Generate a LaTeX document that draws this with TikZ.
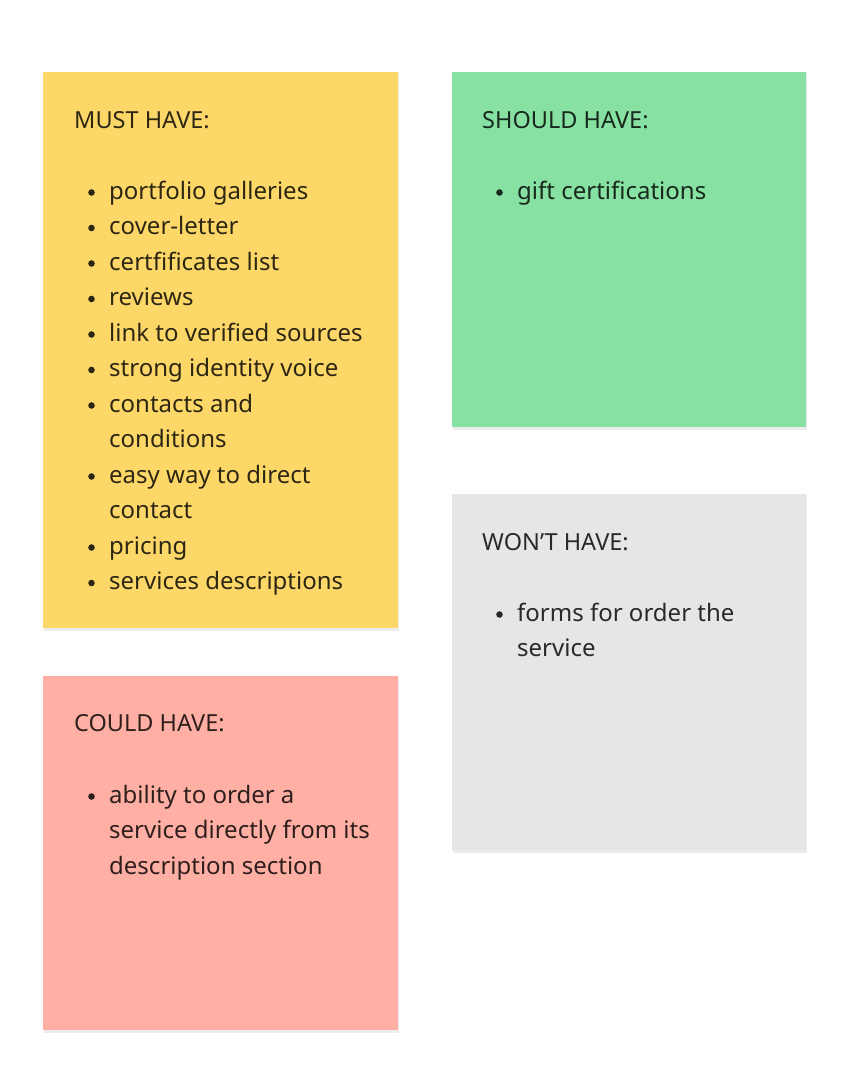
\documentclass[tikz,border=0pt]{standalone}
\usepackage{fontspec}
\setmainfont{Noto Sans}
\definecolor{yel}{HTML}{FDD868}
\definecolor{grn}{HTML}{86E1A2}
\definecolor{gry}{HTML}{E6E6E6}
\definecolor{rd}{HTML}{FFAFA3}
\definecolor{shd}{HTML}{E4E4E4}
\tikzset{
  card/.style={fill=#1, draw=none},
  shadowbox/.style={fill=shd, draw=none, opacity=0.7},
  ttl/.style={anchor=base west, inner sep=0pt, text=black, text opacity=0.82, font=\fontsize{23.5}{28}\selectfont},
  itm/.style={anchor=base west, inner sep=0pt, text=black, text opacity=0.82, font=\fontsize{24}{28}\selectfont},
  bul/.style={circle, fill=black, fill opacity=0.82, draw=none, minimum size=6.6pt, inner sep=0pt}
}
\begin{document}
\begin{tikzpicture}[x=1pt,y=-1pt]
\useasboundingbox (0,0) rectangle (850,1084);
% shadows
\fill[shadowbox] (44,73) rectangle (399,630.5);
\fill[shadowbox] (453,73) rectangle (807,429.5);
\fill[shadowbox] (453,495) rectangle (807,852.5);
\fill[shadowbox] (44,677) rectangle (399,1032.5);
% cards
\fill[card=yel] (43,72) rectangle (398,628);
\fill[card=grn] (452,72) rectangle (806,427);
\fill[card=gry] (452,494) rectangle (806,850);
\fill[card=rd] (43,676) rectangle (398,1030);
% MUST HAVE
\node[ttl] (mh) at (74,128) {MUST HAVE:};
\foreach \i/\t/\b in {1/portfolio galleries/1,2/cover-letter/1,3/certfificates list/1,4/reviews/1,5/link to verified sources/1,6/strong identity voice/1,7/contacts and/1,8/conditions/0,9/easy way to direct/1,10/contact/0,11/pricing/1,12/services descriptions/1}{
  \pgfmathsetmacro{\yy}{199+(\i-1)*35.5}
  \node[itm] (m\i) at (109,\yy) {\t};
  \ifnum\b=1 \node[bul] (mb\i) at (91.5,\yy-6.5) {};\fi
}
% SHOULD HAVE
\node[ttl] (sh) at (482,128) {SHOULD HAVE:};
\node[bul] (sb1) at (499.5,192.5) {};
\node[itm] (s1) at (517,199) {gift certifications};
% WON'T HAVE
\node[ttl] (wh) at (482,550) {WON’T HAVE:};
\node[bul] (wb1) at (499.5,614.5) {};
\node[itm] (w1) at (517,621) {forms for order the};
\node[itm] (w2) at (517,656.5) {service};
% COULD HAVE
\node[ttl] (ch) at (74,731) {COULD HAVE:};
\node[bul] (cb1) at (91.5,796.5) {};
\node[itm] (c1) at (109,803) {ability to order a};
\node[itm] (c2) at (109,838.5) {service directly from its};
\node[itm] (c3) at (109,874) {description section};
\end{tikzpicture}
\end{document}
